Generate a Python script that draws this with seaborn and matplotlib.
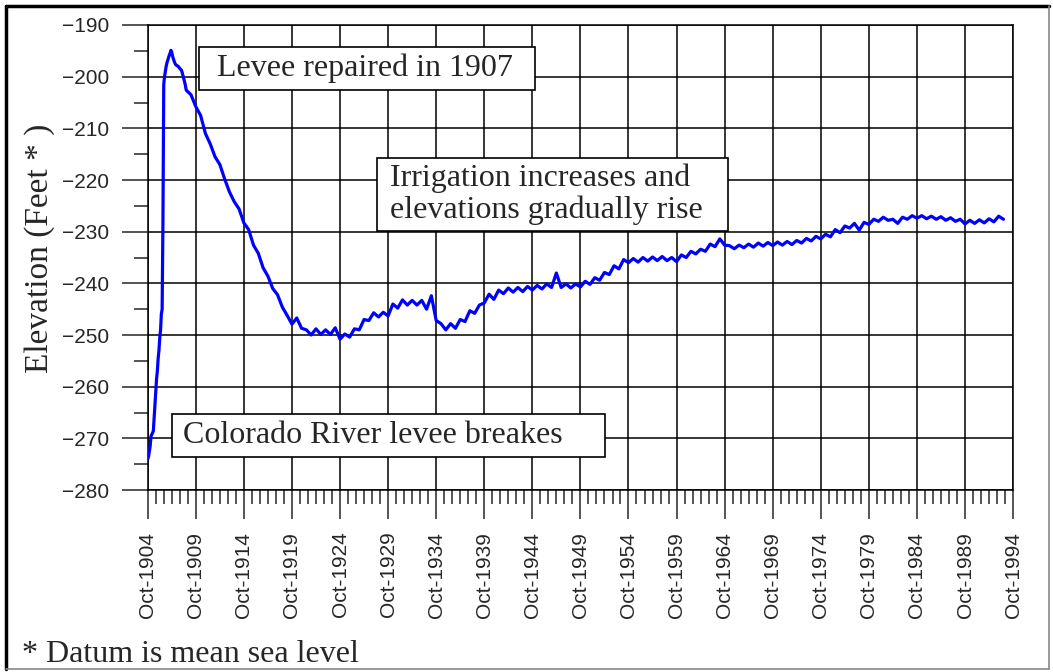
import pandas as pd
import seaborn as sns
import matplotlib.pyplot as plt
from matplotlib.patches import Rectangle
from matplotlib.lines import Line2D

# Salton Sea elevation (feet)
# monthly readings during the 1905-1907 flood
early_start = '1904-10-01'
early_elev = [
    -274.0, -273.5, -272.5, -271.5, -269.6, -269.3, -269.0, -268.6, -266.0, -263.5,
    -261.0, -258.5, -257.0, -254.5, -253.0, -250.5, -249.0, -246.0, -245.0, -228.5,
    -201.5, -200.0, -199.0, -198.0, -197.3, -196.8, -196.3, -195.8, -195.4, -194.9,
    -195.3, -196.0, -196.5, -197.0, -197.4, -197.7, -197.8, -197.9, -198.0, -198.2,
    -198.4, -198.6, -198.7, -199.2, -199.8, -200.3, -201.0, -201.7,
]
# twice-yearly readings (Oct / Apr) afterwards
late_start = '1908-10-01'
late_elev = [
    -202.6,
    -203.5, -205.8, -207.5, -211.0, -213.0, -215.5, -217.0, -219.8, -222.3, -224.2,
    -225.6, -228.3, -229.6, -232.6, -234.2, -237.0, -238.6, -241.0, -242.2, -244.6,
    -246.2, -247.9, -246.7, -248.7, -249.0, -250.0, -248.8, -249.9, -249.0, -249.9,
    -248.6, -250.8, -249.8, -250.4, -248.8, -249.0, -247.0, -247.2, -245.7, -246.5,
    -245.6, -246.3, -244.0, -244.8, -243.2, -244.2, -243.3, -244.2, -243.3, -245.0,
    -242.4, -247.2, -247.8, -249.0, -247.8, -248.7, -247.0, -247.4, -245.3, -245.8,
    -244.2, -243.8, -242.1, -243.1, -241.3, -242.0, -240.9, -241.7, -240.8, -241.6,
    -240.6, -241.3, -240.4, -241.1, -240.1, -240.8, -238.0, -240.8, -240.1, -240.9,
    -240.1, -240.7, -239.6, -240.2, -238.9, -239.4, -237.9, -238.3, -236.6, -237.2,
    -235.4, -236.0, -235.2, -235.9, -235.0, -235.7, -234.9, -235.6, -234.8, -235.6,
    -235.0, -235.8, -234.5, -235.0, -233.8, -234.3, -233.4, -233.8, -232.4, -232.9,
    -231.4, -232.6, -232.7, -233.3, -232.6, -233.1, -232.4, -233.0, -232.2, -232.8,
    -232.1, -232.7, -232.0, -232.6, -231.9, -232.5, -231.7, -232.2, -231.3, -231.8,
    -230.9, -231.4, -230.5, -231.0, -229.6, -230.2, -228.9, -229.3, -228.4, -229.7,
    -228.2, -228.6, -227.6, -228.0, -227.2, -227.8, -227.6, -228.4, -227.2, -227.6,
    -226.9, -227.4, -226.9, -227.5, -227.0, -227.6, -227.1, -227.8, -227.3, -228.0,
    -227.6, -228.5, -227.8, -228.4, -227.7, -228.3, -227.5, -228.1, -227.0, -227.6,
]

x_start = '1904-10-01'
x_end = '1994-10-01'
y_ticks = list(range(-280, -189, 10))

dates = list(pd.date_range(early_start, periods=len(early_elev), freq='MS')) + \
        list(pd.date_range(late_start, periods=len(late_elev), freq='6MS'))
df = pd.DataFrame({'date': dates, 'elev': early_elev + late_elev})

sns.set_style('white')
plt.rcParams['font.family'] = ['Liberation Sans', 'DejaVu Sans']
serif = ['Liberation Serif', 'DejaVu Serif']

fig = plt.figure(figsize=(10.53, 6.72), dpi=100)
ax = fig.add_axes([0.1403, 0.2708, 0.8218, 0.6920])

sns.lineplot(data=df, x='date', y='elev', color='#0000FF', linewidth=2.3, ax=ax, zorder=3)

major = pd.date_range(x_start, x_end, freq='60MS')
minor = pd.date_range(x_start, x_end, freq='10MS')
ax.set_xlim(pd.Timestamp(x_start), pd.Timestamp(x_end))
ax.set_ylim(-280, -190)
ax.set_xticks(major)
ax.set_xticklabels([d.strftime('%b-%Y') for d in major])
ax.set_xticks(minor, minor=True)
ax.set_yticks(y_ticks)
ax.set_yticks([v + 5 for v in y_ticks[:-1]], minor=True)

ax.grid(True, which='major', color='black', linewidth=1.1)
ax.set_axisbelow(True)
for s in ax.spines.values():
    s.set_color('black')
    s.set_linewidth(1.1)

ax.tick_params(axis='x', which='major', bottom=True, direction='out', length=21, width=1.1,
               pad=9, labelsize=15, labelrotation=90)
ax.tick_params(axis='x', which='minor', bottom=True, direction='out', length=10, width=1.1)
ax.tick_params(axis='y', which='major', left=True, direction='out', length=19, width=1.1,
               pad=9, labelsize=15)
ax.tick_params(axis='y', which='minor', left=True, direction='out', length=10, width=1.1)

ax.set_xlabel('')
ax.set_ylabel('Elevation (Feet * )', fontsize=24, family=serif, va='center')
ax.yaxis.set_label_coords(-0.1245, 0.52)

# annotation boxes
boxes = [
    ((0.0596, 0.8602), 0.3884, 0.0931, (0.0797, 0.9068), 'Levee repaired in 1907'),
    ((0.2647, 0.5576), 0.4063, 0.1564, (0.2800, 0.6358),
     'Irrigation increases and\nelevations gradually rise'),
    ((0.0284, 0.0716), 0.5001, 0.0918, (0.0411, 0.1175), 'Colorado River levee breakes'),
]
for xy, w, h, txy, txt in boxes:
    ax.add_patch(Rectangle(xy, w, h, transform=ax.transAxes, facecolor='white',
                           edgecolor='black', linewidth=1.2, zorder=5, clip_on=False))
    ax.text(txy[0], txy[1], txt, transform=ax.transAxes, ha='left', va='center',
            fontsize=23, family=serif, linespacing=1.12, zorder=6)

fig.text(22 / 1053, 1 - 655 / 672, '* Datum is mean sea level', ha='left', va='center',
         fontsize=23, family=serif)

# outer frame
fig.add_artist(Line2D([6 / 1053, 6 / 1053], [0.004, 1 - 6 / 672], color='black', linewidth=2.5))
fig.add_artist(Line2D([6 / 1053, 1049 / 1053], [1 - 6 / 672, 1 - 6 / 672], color='black', linewidth=2.5))
fig.add_artist(Line2D([1049 / 1053, 1049 / 1053], [0.004, 1 - 6 / 672], color='#888888', linewidth=1.2))
fig.add_artist(Line2D([6 / 1053, 1049 / 1053], [0.004, 0.004], color='#888888', linewidth=1.2))

fig.savefig('out.png', dpi=100, facecolor='white')
